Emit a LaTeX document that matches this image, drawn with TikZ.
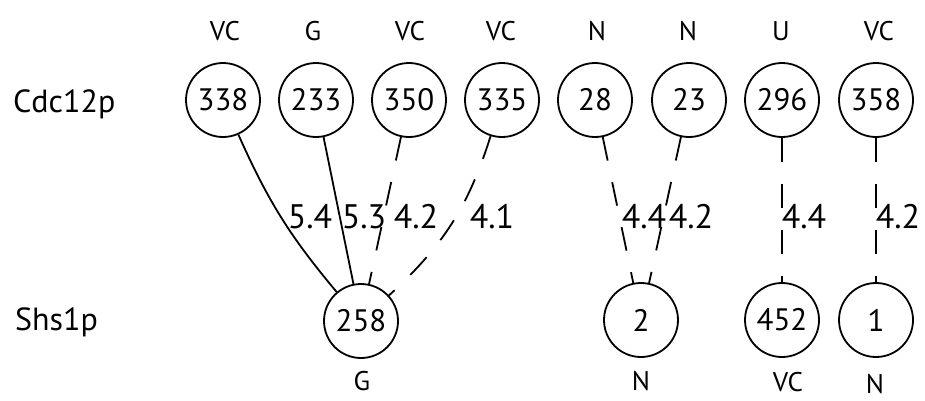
\documentclass[tikz,border=0pt]{standalone}
\usepackage{fontspec}
\setmainfont{PT Sans}
\begin{document}
\begin{tikzpicture}[x=1pt,y=-1pt,
  site/.style={circle, draw, line width=1.8pt, minimum size=74pt, inner sep=0pt,
               font=\fontsize{31}{31}\selectfont},
  res/.style={anchor=base, inner sep=0pt, font=\fontsize{27}{27}\selectfont},
  prot/.style={anchor=base west, inner sep=0pt, font=\fontsize{32}{32}\selectfont},
  dist/.style={anchor=base, inner sep=0pt, font=\fontsize{34}{34}\selectfont},
  solidlink/.style={line width=1.8pt},
  dashlink/.style={line width=1.8pt, dash pattern=on 24pt off 22pt},
]
\useasboundingbox (0,0) rectangle (925,400);

% protein names
\node[prot] (cdc) at (13,112) {Cdc12p};
\node[prot] (shs) at (15,330) {Shs1p};

% Cdc12p residues
\node[site] (c338) at (223,100) {338};
\node[site] (c233) at (316,100) {233};
\node[site] (c350) at (409,100) {350};
\node[site] (c335) at (502,100) {335};
\node[site] (c28)  at (595,100) {28};
\node[site] (c23)  at (689,100) {23};
\node[site] (c296) at (782,100) {296};
\node[site] (c358) at (876,100) {358};

% Shs1p residues
\node[site] (s258) at (361,321) {258};
\node[site] (s2)   at (641,320) {2};
\node[site] (s452) at (782,320) {452};
\node[site] (s1)   at (876,320) {1};

% class letters above Cdc12p residues
\node[res] (t338) at (225,40) {VC};
\node[res] (t233) at (313,40) {G};
\node[res] (t350) at (410,40) {VC};
\node[res] (t335) at (501,40) {VC};
\node[res] (t28)  at (597,40) {N};
\node[res] (t23)  at (688,40) {N};
\node[res] (t296) at (781,40) {U};
\node[res] (t358) at (879,40) {VC};

% class letters below Shs1p residues
\node[res] (b258) at (362,390) {G};
\node[res] (b2)   at (641,390) {N};
\node[res] (b452) at (788,391) {VC};
\node[res] (b1)   at (875,393) {N};

% links
\draw[solidlink] (c338) to[bend right=8] (s258);
\draw[solidlink] (c233) -- (s258);
\draw[dashlink]  (c350) -- (s258);
\draw[dashlink]  (c335) to[bend left=15] (s258);
\draw[dashlink]  (c28) -- (s2);
\draw[dashlink]  (c23) -- (s2);
\draw[dashlink]  (c296) -- (s452);
\draw[dashlink]  (c358) -- (s1);

% distances
\node[dist] (d1) at (310,228) {5.4};
\node[dist] (d2) at (364,228) {5.3};
\node[dist] (d3) at (416,228) {4.2};
\node[dist] (d4) at (492,228) {4.1};
\node[dist] (d5) at (644,228) {4.4};
\node[dist] (d6) at (691,228) {4.2};
\node[dist] (d7) at (804,228) {4.4};
\node[dist] (d8) at (898,228) {4.2};
\end{tikzpicture}
\end{document}
